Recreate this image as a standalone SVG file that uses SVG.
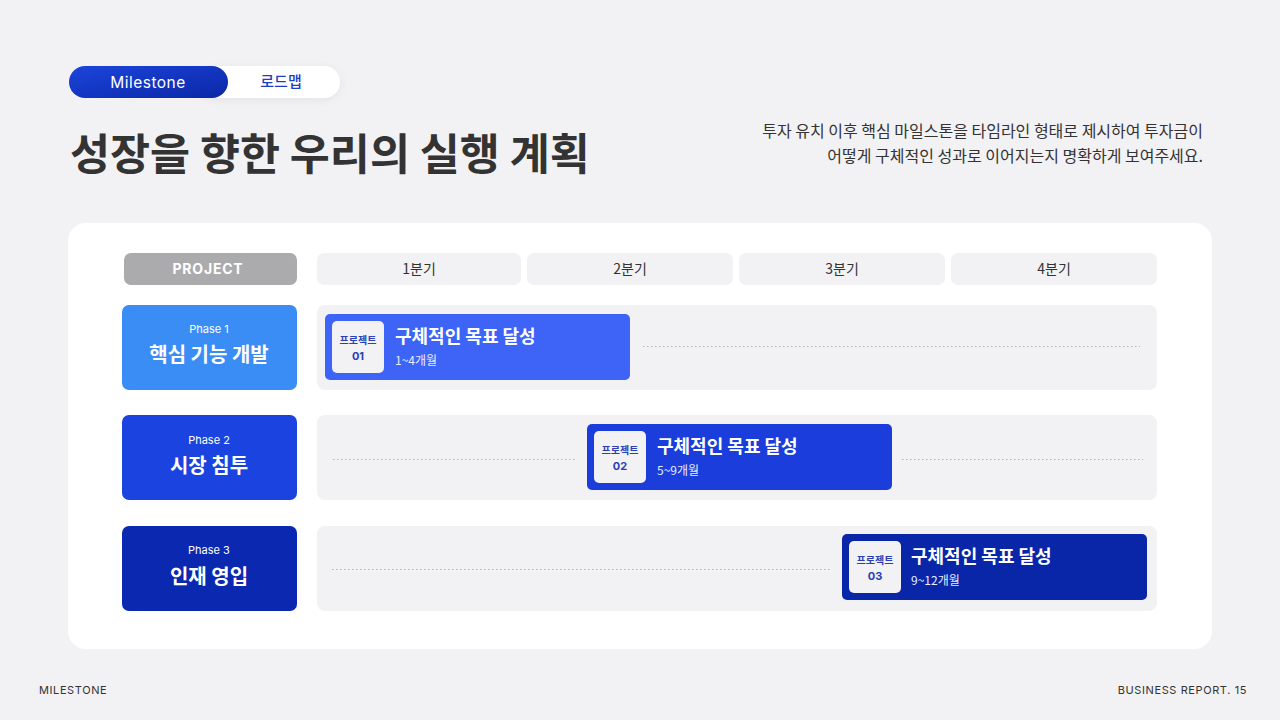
<svg xmlns="http://www.w3.org/2000/svg" width="1280" height="720" viewBox="0 0 1280 720">
<defs>
<linearGradient id="pillGrad" x1="0" y1="0" x2="1" y2="1">
<stop offset="0" stop-color="#1c45dc"/>
<stop offset="1" stop-color="#0a27a6"/>
</linearGradient>
<filter id="soft" x="-10%" y="-30%" width="120%" height="160%">
<feDropShadow dx="0" dy="2" stdDeviation="4" flood-color="#000" flood-opacity="0.06"/>
</filter>
</defs>
<style>
.kr{font-family:"Noto Sans CJK KR","Noto Sans",sans-serif}
.lat{font-family:"Inter","Noto Sans","Noto Sans CJK KR",sans-serif}
.hdr{fill:#f2f1f4}
.rowbg{fill:#f2f1f4}
.qt{font-size:14px;fill:#333;text-anchor:middle}
.ph{font-size:11px;fill:#fff;text-anchor:middle}
.pt{font-size:20px;font-weight:700;fill:#fff;text-anchor:middle}
.badge{fill:#f2f1f4}
.bl1{font-size:10px;font-weight:700;fill:#2a40b4;text-anchor:middle}
.bl2{font-size:11px;font-weight:700;fill:#2a40b4;text-anchor:middle}
.bt{font-size:18px;font-weight:700;fill:#fff}
.bs{font-size:12px;fill:#e8ecff}
.dot{stroke:#b4b4b8;stroke-width:1.2;stroke-dasharray:1.5 2.5;fill:none}
.foot{font-size:11px;fill:#333;letter-spacing:0.6px}
</style>
<rect width="1280" height="720" fill="#f2f1f3"/>

<g id="tabs">
<rect x="200" y="66" width="140" height="32" rx="16" fill="#ffffff" filter="url(#soft)"/>
<text x="281" y="87" class="kr" font-size="15" font-weight="500" fill="#1d3fc4" text-anchor="middle">로드맵</text>
<rect x="69" y="66" width="159" height="32" rx="16" fill="url(#pillGrad)"/>
<text x="148" y="87.5" class="lat" font-size="15.5" fill="#fff" text-anchor="middle" letter-spacing="0.5">Milestone</text>
</g>

<g id="title">
<text x="70" y="170" class="kr" font-size="43.5" font-weight="700" fill="#333">성장을 향한 우리의 실행 계획</text>
</g>
<g id="desc">
<text x="1203" y="137" class="kr" font-size="16" fill="#333" text-anchor="end">투자 유치 이후 핵심 마일스톤을 타임라인 형태로 제시하여 투자금이</text>
<text x="1203" y="162" class="kr" font-size="16" fill="#333" text-anchor="end">어떻게 구체적인 성과로 이어지는지 명확하게 보여주세요.</text>
</g>

<g id="card">
<rect x="68" y="223" width="1144" height="426" rx="18" fill="#ffffff"/>
</g>

<g id="header">
<rect x="124" y="253" width="173" height="32" rx="7" fill="#ababad"/>
<text x="208" y="274" class="lat" font-size="14" font-weight="700" fill="#fff" text-anchor="middle" letter-spacing="0.8">PROJECT</text>
<rect x="317" y="253" width="204" height="32" rx="7" class="hdr"/>
<text x="419" y="274" class="kr qt">1분기</text>
<rect x="527" y="253" width="206" height="32" rx="7" class="hdr"/>
<text x="630" y="274" class="kr qt">2분기</text>
<rect x="739" y="253" width="206" height="32" rx="7" class="hdr"/>
<text x="842" y="274" class="kr qt">3분기</text>
<rect x="951" y="253" width="206" height="32" rx="7" class="hdr"/>
<text x="1054" y="274" class="kr qt">4분기</text>
</g>

<g id="phase1">
<rect x="122" y="305" width="175" height="85" rx="7" fill="#3b8df6"/>
<text x="209" y="333" class="lat ph">Phase 1</text>
<text x="209" y="362" class="kr pt">핵심 기능 개발</text>
</g>
<g id="phase2">
<rect x="122" y="415" width="175" height="85" rx="7" fill="#1a43e0"/>
<text x="209" y="444" class="lat ph">Phase 2</text>
<text x="209" y="473" class="kr pt">시장 침투</text>
</g>
<g id="phase3">
<rect x="122" y="526" width="175" height="85" rx="7" fill="#0a28b0"/>
<text x="209" y="554" class="lat ph">Phase 3</text>
<text x="209" y="584" class="kr pt">인재 영입</text>
</g>

<g id="rows">
<rect x="317" y="305" width="840" height="85" rx="8" class="rowbg"/>
<rect x="317" y="415" width="840" height="85" rx="8" class="rowbg"/>
<rect x="317" y="526" width="840" height="85" rx="8" class="rowbg"/>
</g>

<g id="connectors">
<line x1="643" y1="346.5" x2="1140" y2="346.5" class="dot"/>
<line x1="333" y1="459.5" x2="575" y2="459.5" class="dot"/>
<line x1="902" y1="459.5" x2="1143" y2="459.5" class="dot"/>
<line x1="332" y1="569.5" x2="830" y2="569.5" class="dot"/>
</g>

<g id="project1">
<rect x="325" y="314" width="305" height="66" rx="5" fill="#3d63f7"/>
<rect x="332" y="321" width="52" height="52" rx="5" class="badge"/>
<text x="358" y="344" class="kr bl1">프로젝트</text>
<text x="358" y="360" class="lat bl2">01</text>
<text x="395" y="343" class="kr bt">구체적인 목표 달성</text>
<text x="395" y="365" class="kr bs">1~4개월</text>
</g>
<g id="project2">
<rect x="587" y="424" width="305" height="66" rx="5" fill="#1a3ddb"/>
<rect x="594" y="431" width="52" height="52" rx="5" class="badge"/>
<text x="620" y="454" class="kr bl1">프로젝트</text>
<text x="620" y="470" class="lat bl2">02</text>
<text x="657" y="453" class="kr bt">구체적인 목표 달성</text>
<text x="657" y="475" class="kr bs">5~9개월</text>
</g>
<g id="project3">
<rect x="842" y="534" width="305" height="66" rx="5" fill="#0a26a8"/>
<rect x="849" y="541" width="52" height="52" rx="5" class="badge"/>
<text x="875" y="564" class="kr bl1">프로젝트</text>
<text x="875" y="580" class="lat bl2">03</text>
<text x="911" y="563" class="kr bt">구체적인 목표 달성</text>
<text x="911" y="585" class="kr bs">9~12개월</text>
</g>

<g id="footer">
<text x="39" y="694" class="lat foot">MILESTONE</text>
<text x="1247" y="694" class="lat foot" text-anchor="end">BUSINESS REPORT. 15</text>
</g>
</svg>
